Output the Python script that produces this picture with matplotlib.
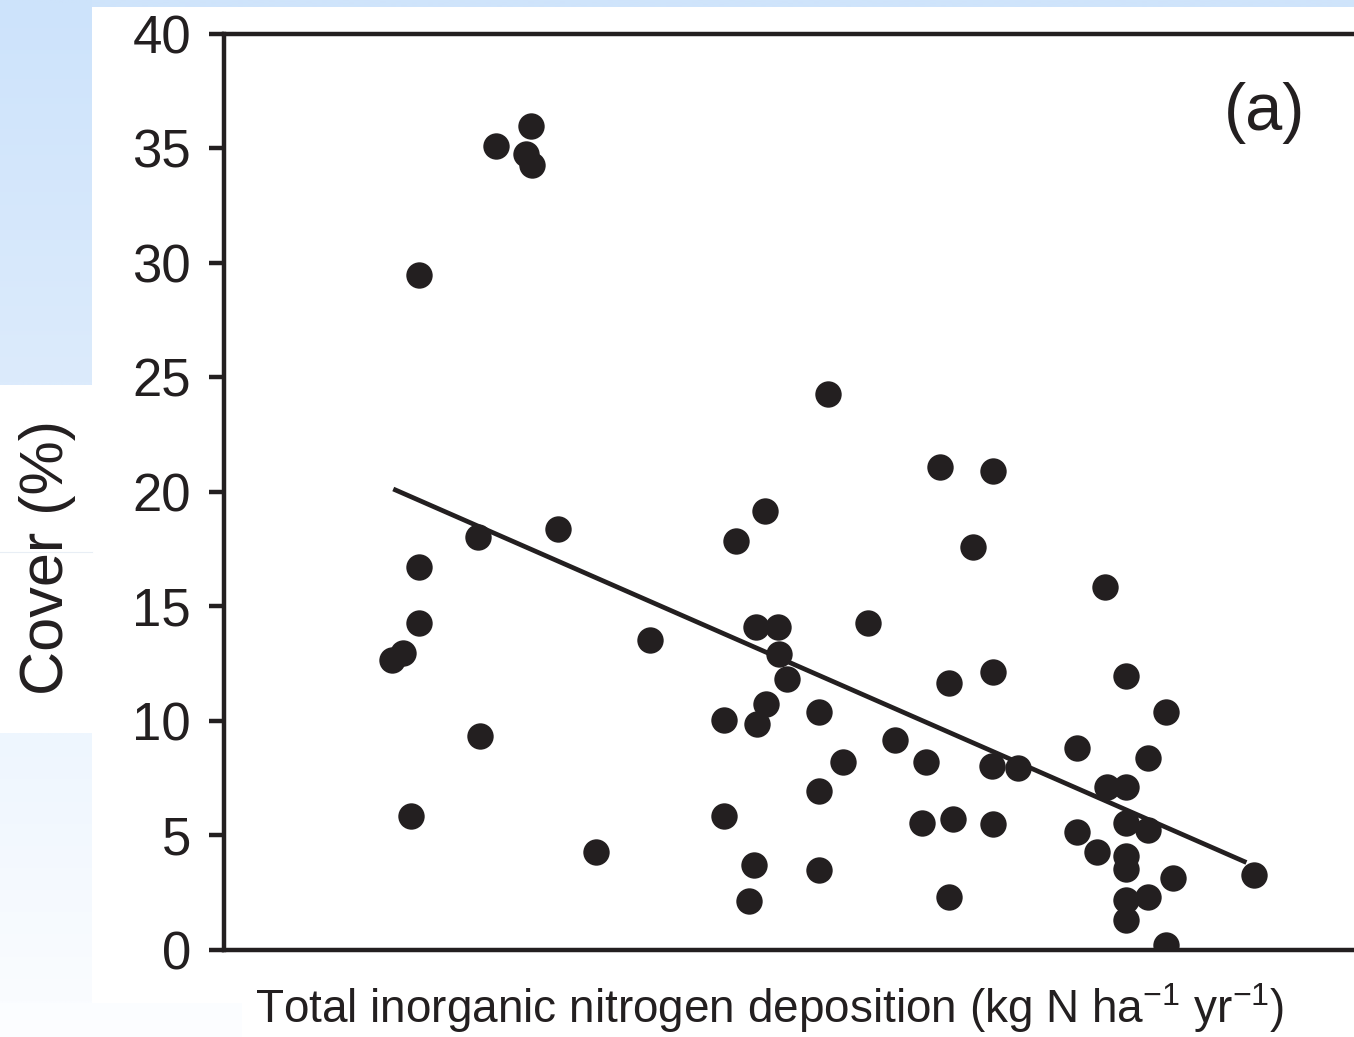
import numpy as np
import matplotlib
matplotlib.use("Agg")
import matplotlib.pyplot as plt
from matplotlib import font_manager

plt.rcParams["font.family"] = ["Liberation Sans", "DejaVu Sans"]
plt.rcParams["mathtext.fontset"] = "custom"
plt.rcParams["mathtext.rm"] = "Liberation Sans"
plt.rcParams["mathtext.it"] = "Liberation Sans:italic"
plt.rcParams["mathtext.bf"] = "Liberation Sans:bold"

# Total inorganic N deposition (kg N ha-1 yr-1) and species cover (%) per site
deposition = [9.57, 10.81, 10.63, 10.85, 6.88, 21.26, 25.20, 27.08, 19.05, 18.02,
              26.37, 11.77, 8.95, 6.88, 31.03, 15.00, 6.88, 18.72, 19.52, 22.69,
              6.30, 5.92, 19.54, 19.83, 27.06, 25.52, 31.75, 19.07, 17.62, 18.76,
              20.94, 33.17, 9.01, 23.63, 30.02, 21.81, 24.72, 32.55, 27.03, 27.97,
              31.08, 31.76, 20.94, 31.76, 32.55, 6.57, 17.62, 24.59, 25.67, 27.09,
              30.02, 30.73, 31.76, 31.76, 13.11, 18.65, 20.94, 33.43, 36.27, 31.76,
              32.55, 31.76, 18.49, 25.52, 33.17]
cover = [35.08, 35.95, 34.72, 34.24, 29.45, 24.27, 21.06, 20.89, 19.17, 17.83,
         17.61, 18.37, 18.02, 16.71, 15.86, 13.51, 14.27, 14.09, 14.09, 14.27,
         12.97, 12.66, 12.93, 11.82, 12.15, 11.65, 11.97, 10.73, 10.04, 9.86,
         10.38, 10.38, 9.34, 9.17, 8.81, 8.20, 8.20, 8.37, 8.05, 7.93,
         7.10, 7.13, 6.94, 5.53, 5.24, 5.85, 5.85, 5.56, 5.71, 5.50,
         5.17, 4.29, 4.10, 3.54, 4.27, 3.71, 3.49, 3.13, 3.28, 2.18,
         2.33, 1.31, 2.14, 2.33, 0.22]

# Fitted regression line end points
trend_x = [5.96, 36.0]
trend_y = [20.12, 3.82]

y_ticks = [0, 5, 10, 15, 20, 25, 30, 35, 40]

W, H = 1354, 1037
ink = "#231f20"

installed = {f.name for f in font_manager.fontManager.ttflist}
narrow = "Liberation Sans Narrow" if "Liberation Sans Narrow" in installed else None

fig = plt.figure(figsize=(W / 100, H / 100), dpi=100, facecolor="white")

# Slide background panels behind the figure
bg = fig.add_axes([0, 0, 1, 1], zorder=-10)
bg.set_xlim(0, W)
bg.set_ylim(H, 0)
bg.axis("off")


def vgrad(c0, c1, n=64):
    c0 = np.array(matplotlib.colors.to_rgb(c0))
    c1 = np.array(matplotlib.colors.to_rgb(c1))
    t = np.linspace(0, 1, n)[:, None]
    return (c0 * (1 - t) + c1 * t)[:, None, :]


bg.imshow(vgrad("#cfe4fb", "#cfe4fb", 2), extent=(0, W, 7, 0), aspect="auto", interpolation="bilinear")
bg.imshow(vgrad("#cde3fb", "#dcebfc"), extent=(0, 92, 385, 0), aspect="auto", interpolation="bilinear")
bg.imshow(vgrad("#eef6fe", "#fafcff"), extent=(0, 92, 1003, 733), aspect="auto", interpolation="bilinear")
bg.imshow(vgrad("#fbfdff", "#fdfeff"), extent=(0, 242, 1037, 1003), aspect="auto", interpolation="bilinear")
bg.plot([0, 92], [552, 552], color="#e8eef5", lw=0.8)

# Main plotting area
left_px, right_px, top_px, bottom_px = 224, 1360, 33.5, 950
ax = fig.add_axes([left_px / W, 1 - bottom_px / H,
                   (right_px - left_px) / W, (bottom_px - top_px) / H])
ax.set_facecolor("white")
ax.set_xlim(0, 40)
ax.set_ylim(0, 40)

ax.scatter(deposition, cover, s=19 ** 2, color=ink, linewidths=0, zorder=3)
ax.plot(trend_x, trend_y, color=ink, lw=3.4, solid_capstyle="butt", zorder=2)

for side in ["left", "bottom", "top", "right"]:
    ax.spines[side].set_linewidth(3.2)
    ax.spines[side].set_color(ink)

ax.set_xticks([])
ax.set_yticks(y_ticks)
ax.tick_params(axis="y", direction="out", length=10.8, width=3.2, color=ink,
               labelsize=38, labelcolor=ink, pad=13)

ax.set_ylabel("Cover (%)", fontsize=44, color=ink)
ax.yaxis.set_label_coords(-0.1558, 0.4288)
ax.yaxis.label.set_va("center")

xlabel = r"Total inorganic nitrogen deposition (kg N ha$^{-1}$ yr$^{-1}$)"
if narrow:
    with plt.rc_context({"mathtext.rm": narrow}):
        ax.set_xlabel(xlabel, fontsize=40, color=ink, family=[narrow, "Liberation Sans"])
else:
    ax.set_xlabel(xlabel, fontsize=33, color=ink)
ax.xaxis.set_label_coords(0.4806, -0.0633)
ax.xaxis.label.set_va("center")

ax.text((1265 - left_px) / (right_px - left_px), (bottom_px - 113) / (bottom_px - top_px),
        "(a)", transform=ax.transAxes, fontsize=48, color=ink, ha="center", va="center")

fig.savefig("out.png", dpi=100, facecolor="white")
